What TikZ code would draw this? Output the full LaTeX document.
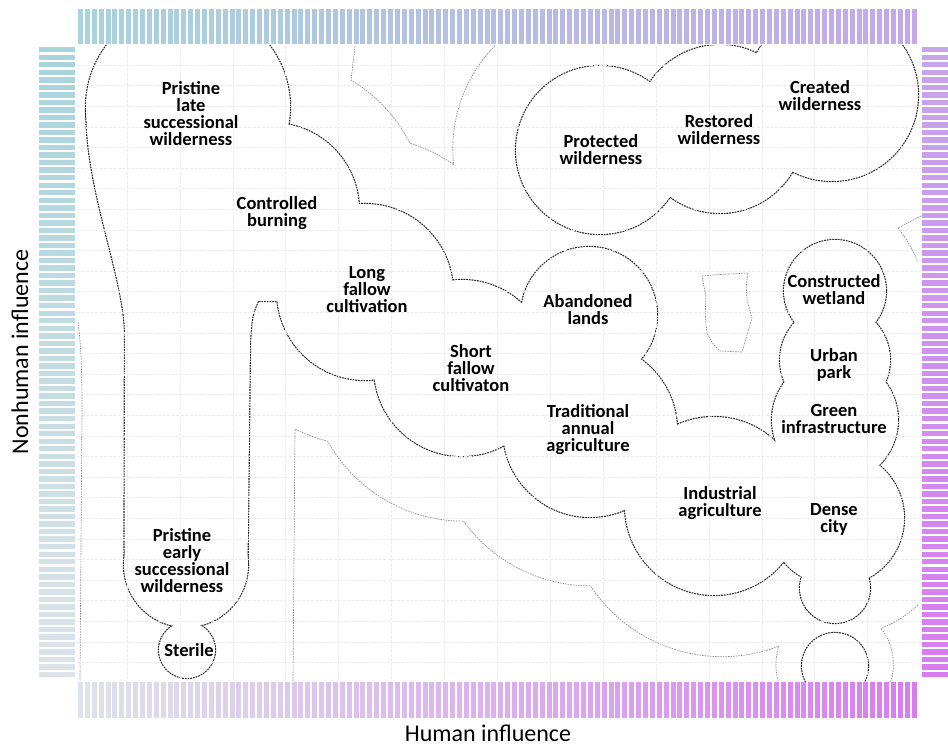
\documentclass[tikz,border=0pt]{standalone}
\usepackage{fontspec}
\setmainfont{Carlito}
\definecolor{tL}{HTML}{A8D4DC}
\definecolor{tR}{HTML}{C3A8EA}
\definecolor{lT}{HTML}{A8D4DC}
\definecolor{lB}{HTML}{DEE3EA}
\definecolor{rT}{HTML}{C6A6EA}
\definecolor{rB}{HTML}{D97CF2}
\definecolor{bL}{HTML}{DEE2EA}
\definecolor{bR}{HTML}{D97CF2}
\newcommand\mypieces[1]{%
 #1 (188,107) circle[radius=102pt];
 #1 (272,210) circle[radius=87pt];
 #1 (365,292) circle[radius=88pt];
 #1 (462,368) circle[radius=88pt];
 #1 (589,315) circle[radius=68pt];
 #1 (590,430) circle[radius=87pt];
 #1 (714,506) circle[radius=89pt];
 #1 (835,291) circle[radius=51pt];
 #1 (835,360) circle[radius=55pt];
 #1 (835,420) circle[radius=63pt];
 #1 (836,518) circle[radius=68pt];
 #1 (835,588) circle[radius=35pt];
 #1 (186,565) circle[radius=62pt];
 #1 (187,650) circle[radius=28pt];
 #1 (86.3,110) .. controls (86,190) and (122,270) .. (125,330) -- (124.5,565) -- (247.5,565) -- (250,340) .. controls (252,315) .. (258,301) -- (280,301) -- (280,250) -- (200,150) -- cycle;
 #1 (600,150) circle[radius=84pt];
 #1 (720,129) circle[radius=84pt];
 #1 (832,95) circle[radius=86pt];
 #1 (835,666) circle[radius=33pt];
}
\begin{document}
\begin{tikzpicture}[x=1pt,y=-1pt,
  darkline/.style={draw=black!85, line width=2.3pt, line join=round, dash pattern=on 1.8pt off 0.9pt},
  ghost/.style={draw=black!45, line width=0.65pt, dash pattern=on 1.6pt off 1pt},
  gridline/.style={draw=black!8, line width=0.5pt, dash pattern=on 3pt off 1.5pt},
  lbl/.style={font=\bfseries\fontsize{18.5}{17}\selectfont, align=center, text=black, inner sep=0pt},
  axislbl/.style={font=\fontsize{24}{28}\selectfont, inner sep=0pt, text=black}]

\fill[white] (0,0) rectangle (948,746);

\begin{scope}
\clip (77,46) rectangle (921,681);
\mypieces{\draw[darkline]}
\mypieces{\fill[white]}
% grid
\foreach \k in {0,...,14} \draw[gridline] ({127+52.9*\k},46) -- ({127+52.9*\k},681);
\foreach \k in {0,...,29} \draw[gridline] (77,{65+20.6*\k}) -- (921,{65+20.6*\k});
% ghost shapes
\draw[ghost] (355,46) -- (351,80) arc[start angle=59, end angle=27, radius=157pt]
  arc[start angle=73, end angle=55, radius=155pt]
  arc[start angle=186, end angle=132, radius=148pt];
\draw[ghost] (702,276) .. controls (720,274) and (735,274) .. (748,273)
  .. controls (746,285) .. (747,300) -- (752,318) -- (742,352) -- (720,351)
  .. controls (712,343) .. (707,333) .. controls (705,315) .. (706,297) -- cycle;
\draw[ghost] (921,216) -- (898,228) .. controls (906,238) and (912,248) .. (918,262);
\draw[ghost] (78,322) .. controls (81,345) and (82,370) .. (82,410) -- (80,681);
\draw[ghost] (293,681) -- (295,429) arc[start angle=243, end angle=256, radius=155pt]
  arc[start angle=209, end angle=270, radius=155pt]
  arc[start angle=216, end angle=270, radius=157pt]
  arc[start angle=213.5, end angle=291, radius=158pt]
  arc[start angle=162, end angle=200, radius=60pt];
\draw[ghost] (918,605) arc[start angle=313, end angle=292, radius=120pt]
  arc[start angle=38, end angle=-20, radius=58pt];
\end{scope}

% bars
\foreach \i in {0,...,121} {
  \pgfmathtruncatemacro\p{100*\i/121}
  \fill[tR!\p!tL] ({78+\i*6.89},9) rectangle ++(5,35);
  \fill[bR!\p!bL] ({78+\i*6.89},682) rectangle ++(5,36);
}
\foreach \i in {0,...,83} {
  \pgfmathtruncatemacro\p{100*\i/83}
  \fill[lB!\p!lT] (39,{47+\i*7.53}) rectangle ++(36,5.4);
  \fill[rB!\p!rT] (922,{47+\i*7.53}) rectangle ++(26,5.4);
}

% labels
\node[lbl] (n1) at (191,114) {Pristine\\late\\successional\\wilderness};
\node[lbl] (n2) at (277,213) {Controlled\\burning};
\node[lbl] (n3) at (367,290) {Long\\fallow\\cultivation};
\node[lbl] (n4) at (471,368) {Short\\fallow\\cultivaton};
\node[lbl] (n5) at (588,310) {Abandoned\\lands};
\node[lbl] (n6) at (588,430) {Traditional\\annual\\agriculture};
\node[lbl] (n7) at (720,503) {Industrial\\agriculture};
\node[lbl] (n8) at (601,150) {Protected\\wilderness};
\node[lbl] (n9) at (719,130) {Restored\\wilderness};
\node[lbl] (n10) at (820,96) {Created\\wilderness};
\node[lbl] (n11) at (834,290) {Constructed\\wetland};
\node[lbl] (n12) at (834,365) {Urban\\park};
\node[lbl] (n13) at (834,419) {Green\\infrastructure};
\node[lbl] (n14) at (834,519) {Dense\\city};
\node[lbl] (n15) at (182,561) {Pristine\\early\\successional\\wilderness};
\node[lbl] (n16) at (189,650) {Sterile};

\node[axislbl, anchor=base] (hx) at (488,741) {Human influence};
\node[axislbl, anchor=base, rotate=90] (hy) at (28,352) {Nonhuman influence};
\end{tikzpicture}
\end{document}
